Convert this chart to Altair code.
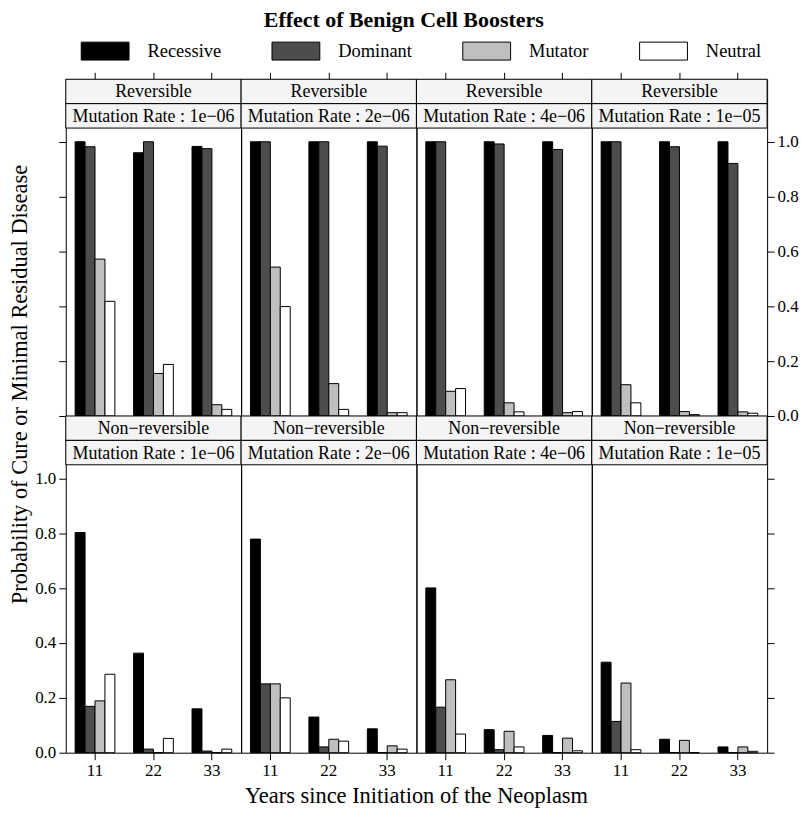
import altair as alt
import pandas as pd

types = ["Recessive", "Dominant", "Mutator", "Neutral"]
years = ["11", "22", "33"]
rates = ["1e−06", "2e−06", "4e−06", "1e−05"]
regimes = ["Reversible", "Non−reversible"]
fill_colors = ["#000000", "#4D4D4D", "#BFBFBF", "#FFFFFF"]
y_ticks = [0.0, 0.2, 0.4, 0.6, 0.8, 1.0]

# values ordered rate-major (1e-06, 2e-06, 4e-06, 1e-05), year-minor (11, 22, 33)
rev_recessive = [1.000, 0.960, 0.983, 1.000, 1.000, 1.000, 1.000, 1.000, 1.000, 1.000, 1.000, 1.000]
rev_dominant = [0.982, 1.000, 0.975, 1.000, 1.000, 0.984, 1.000, 0.992, 0.972, 1.000, 0.982, 0.921]
rev_mutator = [0.572, 0.155, 0.041, 0.543, 0.118, 0.012, 0.090, 0.048, 0.012, 0.114, 0.016, 0.015]
rev_neutral = [0.418, 0.188, 0.024, 0.399, 0.024, 0.012, 0.100, 0.015, 0.016, 0.048, 0.005, 0.010]
nr_recessive = [0.803, 0.363, 0.160, 0.779, 0.130, 0.087, 0.601, 0.084, 0.063, 0.330, 0.049, 0.021]
nr_dominant = [0.169, 0.013, 0.006, 0.251, 0.021, 0.000, 0.166, 0.011, 0.000, 0.114, 0.000, 0.000]
nr_mutator = [0.189, 0.000, 0.000, 0.251, 0.049, 0.025, 0.266, 0.078, 0.053, 0.254, 0.045, 0.021]
nr_neutral = [0.286, 0.052, 0.013, 0.200, 0.042, 0.013, 0.068, 0.021, 0.007, 0.011, 0.000, 0.005]

series = {
    "Reversible": [rev_recessive, rev_dominant, rev_mutator, rev_neutral],
    "Non−reversible": [nr_recessive, nr_dominant, nr_mutator, nr_neutral],
}

rows = []
for reg in regimes:
    for ti, t in enumerate(types):
        vals = series[reg][ti]
        for ri, r in enumerate(rates):
            for yi, yr in enumerate(years):
                rows.append({"regime": reg, "rate": r, "type": t, "year": yr,
                             "value": vals[ri * 3 + yi]})
df = pd.DataFrame(rows)

FONT = "Liberation Serif"
W = 176
H = 338
STRIP = 24.5
YMAX = 1.05 * H / (H - 2 * STRIP)
STRIP_FILL = "#F4F4F4"
TICK_FS = 17


def panel(ri, ci):
    reg = regimes[ri]
    rate = rates[ci]
    top = ri == 0
    if top:
        xaxis = alt.Axis(orient="top", labels=False, ticks=True, tickSize=7,
                         domain=False, title=None, tickColor="black", grid=False)
    else:
        xaxis = alt.Axis(orient="bottom", labels=True, ticks=True, tickSize=7,
                         domain=False, title=None, labelAngle=0, labelFontSize=TICK_FS,
                         labelPadding=3, tickColor="black", labelColor="black", grid=False)
    if ci == 0:
        yaxis = alt.Axis(orient="left", values=y_ticks, format=".1f", tickSize=7,
                         domain=False, title=None, labelFontSize=TICK_FS, labelPadding=3,
                         labelOpacity=0 if top else 1, tickColor="black",
                         labelColor="black", grid=False)
    elif ci == 3:
        yaxis = alt.Axis(orient="right", values=y_ticks, format=".1f", tickSize=7,
                         domain=False, title=None, labelFontSize=TICK_FS, labelPadding=3,
                         labelOpacity=1 if top else 0, tickColor="black",
                         labelColor="black", grid=False)
    else:
        yaxis = None

    bars = alt.Chart(df).transform_filter(
        (alt.datum.regime == reg) & (alt.datum.rate == rate)
    ).mark_bar(stroke="black", strokeWidth=1).encode(
        x=alt.X("year:N", sort=years,
                scale=alt.Scale(domain=years, paddingInner=0.32, paddingOuter=0.16),
                axis=xaxis),
        xOffset=alt.XOffset("type:N", sort=types,
                            scale=alt.Scale(domain=types, paddingInner=0, paddingOuter=0)),
        y=alt.Y("value:Q", scale=alt.Scale(domain=[0, YMAX], nice=False, zero=True),
                axis=yaxis),
        fill=alt.Fill("type:N", sort=types,
                      scale=alt.Scale(domain=types, range=fill_colors),
                      legend=alt.Legend(
                          orient="none", direction="horizontal", columns=4,
                          legendX=15, legendY=-53,
                          title=None,
                          symbolType="M-1,-0.375H1V0.375H-1Z", symbolSize=2304,
                          symbolStrokeColor="black", symbolStrokeWidth=1,
                          symbolOpacity=1,
                          labelFont=FONT, labelFontSize=18.5, labelColor="black",
                          labelOffset=18, columnPadding=48.5)),
    )

    strip1 = alt.Chart(pd.DataFrame({"label": [reg]})).mark_rect(
        fill=STRIP_FILL, stroke="black", strokeWidth=1
    ).encode(x=alt.value(0), x2=alt.value(W), y=alt.value(0), y2=alt.value(STRIP))
    strip1t = alt.Chart(pd.DataFrame({"label": [reg]})).mark_text(
        font=FONT, fontSize=18, color="black", baseline="middle", align="center"
    ).encode(x=alt.value(W / 2), y=alt.value(STRIP / 2 + 1), text="label:N")
    lab2 = "Mutation Rate : " + rate
    strip2 = alt.Chart(pd.DataFrame({"label": [lab2]})).mark_rect(
        fill=STRIP_FILL, stroke="black", strokeWidth=1
    ).encode(x=alt.value(0), x2=alt.value(W), y=alt.value(STRIP), y2=alt.value(2 * STRIP))
    strip2t = alt.Chart(pd.DataFrame({"label": [lab2]})).mark_text(
        font=FONT, fontSize=18, color="black", baseline="middle", align="center"
    ).encode(x=alt.value(W / 2), y=alt.value(STRIP * 1.5 + 1), text="label:N")

    return alt.layer(bars, strip1, strip1t, strip2, strip2t).properties(
        width=W, height=H, view=alt.ViewBackground(stroke="black", strokeWidth=1)
    )


panels = [panel(r, c) for r in range(2) for c in range(4)]
grid = alt.concat(*panels, columns=4, spacing=0, bounds="flush").properties(
    title=alt.TitleParams("Years since Initiation of the Neoplasm", orient="bottom",
                          anchor="middle", font=FONT, fontSize=22.5, fontWeight="normal",
                          color="black", offset=6)
)
inner = alt.vconcat(grid, spacing=0).properties(
    title=alt.TitleParams("Probability of Cure or Minimal Residual Disease", orient="left",
                          anchor="middle", font=FONT, fontSize=22.5, fontWeight="normal",
                          color="black", offset=3, dx=55)
)

chart = alt.vconcat(inner, spacing=0).properties(
    title=alt.TitleParams("Effect of Benign Cell Boosters", anchor="middle", font=FONT,
                          fontSize=22, fontWeight="bold", color="black", offset=-6),
    padding={"left": 0, "right": 0, "top": 0, "bottom": 0},
).configure(font=FONT).configure_view(stroke="black", strokeWidth=1).configure_axis(
    labelFont=FONT, titleFont=FONT, grid=False
)

chart.save("out.html", embed_options={"renderer": "svg", "actions": False})
